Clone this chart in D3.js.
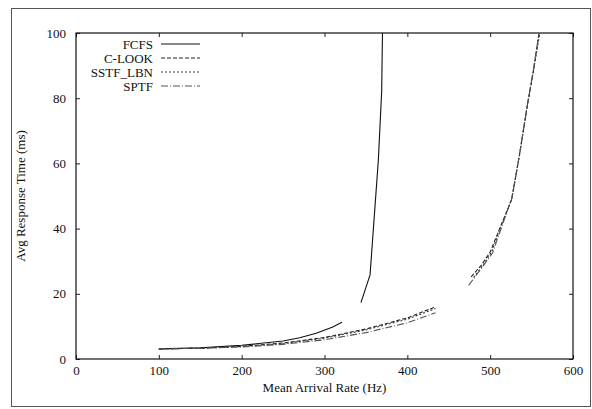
<!DOCTYPE html>
<html>
<head>
<meta charset="utf-8">
<script src="https://cdn.jsdelivr.net/npm/d3@7/dist/d3.min.js"></script>
<style>
  body { margin: 0; background: #fff; }
  text { font-family: "Liberation Serif", "DejaVu Serif", serif; fill: #111; }
  .axis path { display: none; }
  .axis line { stroke: #222; }
</style>
</head>
<body>
<svg id="chart"></svg>
<script>
// tick values
const xTicks = [0, 100, 200, 300, 400, 500, 600];
const yTicks = [0, 20, 40, 60, 80, 100];

// each series is drawn in two pieces (low-load run, high-load run)
const fcfsLow = [[100, 3.1], [150, 3.4], [200, 4.2], [250, 5.5], [270, 6.5], [290, 7.9], [310, 9.8], [321, 11.3]];
const fcfsHigh = [[344, 17.3], [355, 25.8], [365, 61], [369, 82], [370, 100]];

const clookLow = [[100, 3.1], [150, 3.3], [200, 3.9], [250, 4.9], [300, 6.6], [350, 9.2], [400, 12.6], [434, 16.0]];
const clookHigh = [[477, 25.2], [490, 29], [500, 32.8], [512, 40.3], [526, 49], [535, 62], [545, 78], [552, 88], [559, 100]];

const sstfLow = [[100, 3.1], [150, 3.3], [200, 3.8], [250, 4.7], [300, 6.4], [350, 8.9], [400, 12.2], [434, 15.5]];
const sstfHigh = [[480, 25], [492, 29], [502, 33], [513, 40.6], [526, 49], [535, 62], [545, 78], [552, 88], [560, 100]];

const sptfLow = [[100, 3.1], [150, 3.3], [200, 3.7], [250, 4.5], [300, 5.9], [350, 8.1], [400, 11.1], [434, 14.2]];
const sptfHigh = [[474, 22.6], [490, 28], [503, 32.6], [514, 40.6], [526, 49.2], [535, 62], [545, 78], [552, 88.5], [559, 100]];

const seriesNames = ["FCFS", "C-LOOK", "SSTF_LBN", "SPTF"];
const seriesData = [[fcfsLow, fcfsHigh], [clookLow, clookHigh], [sstfLow, sstfHigh], [sptfLow, sptfHigh]];

const W = 592, H = 409;
const margin = { top: 33, right: 19, bottom: 50, left: 76 };
const width = W - margin.left - margin.right;
const height = H - margin.top - margin.bottom;

// line look per series
const dashes = [null, "4,2", "2,2", "7,2,1,2"];
const strokes = ["#111", "#222", "#333", "#555"];

const svg = d3.select("#chart").attr("width", W).attr("height", H);

// outer frame of the figure
svg.append("rect")
  .attr("x", 11.5).attr("y", 8.5)
  .attr("width", 579).attr("height", 398)
  .attr("fill", "none")
  .attr("stroke", "#555")
  .attr("stroke-width", 1);

const g = svg.append("g").attr("transform", `translate(${margin.left},${margin.top})`);

const x = d3.scaleLinear().domain([0, 600]).range([0, width]);
const y = d3.scaleLinear().domain([0, 100]).range([height, 0]);

// inward ticks on all four sides
g.append("g").attr("class", "axis")
  .attr("transform", `translate(0,${height})`)
  .call(d3.axisBottom(x).tickValues(xTicks).tickSize(-4).tickPadding(7).tickFormat(d3.format("d")))
  .selectAll("text").style("font-size", "13px");

g.append("g").attr("class", "axis")
  .call(d3.axisTop(x).tickValues(xTicks).tickSize(-4).tickFormat(""));

g.append("g").attr("class", "axis")
  .call(d3.axisLeft(y).tickValues(yTicks).tickSize(-4).tickPadding(10).tickFormat(d3.format("d")))
  .selectAll("text").style("font-size", "13px");

g.append("g").attr("class", "axis")
  .attr("transform", `translate(${width},0)`)
  .call(d3.axisRight(y).tickValues(yTicks).tickSize(-4).tickFormat(""));

// plot border
g.append("rect")
  .attr("width", width).attr("height", height)
  .attr("fill", "none")
  .attr("stroke", "#111")
  .attr("stroke-width", 1.2);

const line = d3.line().x(d => x(d[0])).y(d => y(d[1]));

seriesData.forEach((pieces, i) => {
  pieces.forEach(p => {
    g.append("path")
      .datum(p)
      .attr("d", line)
      .attr("fill", "none")
      .attr("stroke", strokes[i])
      .attr("stroke-width", 1.1)
      .attr("stroke-dasharray", dashes[i]);
  });
});

// legend
const legend = g.append("g").attr("transform", "translate(0,11)");
seriesNames.forEach((name, i) => {
  const row = legend.append("g").attr("transform", `translate(0,${i * 14})`);
  row.append("text")
    .attr("x", 77).attr("y", 4.5)
    .attr("text-anchor", "end")
    .style("font-size", "13px")
    .text(name);
  row.append("line")
    .attr("x1", 85).attr("x2", 124)
    .attr("stroke", strokes[i])
    .attr("stroke-width", 1.1)
    .attr("stroke-dasharray", dashes[i]);
});

// axis titles
g.append("text")
  .attr("x", width / 2)
  .attr("y", height + 33)
  .attr("text-anchor", "middle")
  .style("font-size", "13px")
  .text("Mean Arrival Rate (Hz)");

g.append("text")
  .attr("transform", "rotate(-90)")
  .attr("x", -height / 2)
  .attr("y", -51)
  .attr("text-anchor", "middle")
  .style("font-size", "13px")
  .text("Avg Response Time (ms)");
</script>
</body>
</html>
